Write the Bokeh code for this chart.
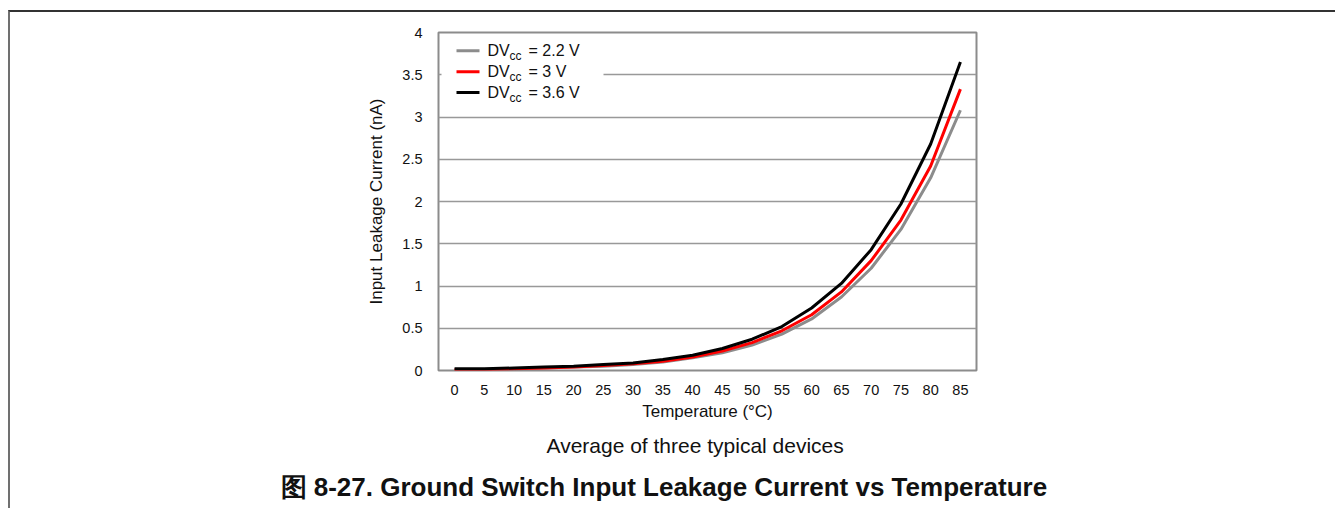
from bokeh.plotting import figure
from bokeh.models import (Range1d, FixedTicker, NumeralTickFormatter, Label,
                          BoxAnnotation, Title)
from bokeh.embed import file_html
from bokeh.resources import INLINE

# ---- data ----
temperature = [0, 5, 10, 15, 20, 25, 30, 35, 40, 45, 50, 55, 60, 65, 70, 75, 80, 85]
dvcc_2_2 = [0.01, 0.01, 0.02, 0.03, 0.04, 0.05, 0.07, 0.10, 0.15, 0.21, 0.30, 0.43,
            0.61, 0.87, 1.21, 1.67, 2.28, 3.08]
dvcc_3_0 = [0.01, 0.01, 0.02, 0.03, 0.04, 0.06, 0.08, 0.11, 0.16, 0.23, 0.33, 0.47,
            0.66, 0.93, 1.30, 1.78, 2.42, 3.33]
dvcc_3_6 = [0.02, 0.02, 0.03, 0.04, 0.05, 0.07, 0.09, 0.13, 0.18, 0.26, 0.37, 0.52,
            0.74, 1.03, 1.43, 1.97, 2.68, 3.65]
series_names = ["2.2 V", "3 V", "3.6 V"]
series_colors = ["#8c8c8c", "#ff0000", "#000000"]
x_ticks = list(range(0, 90, 5))
y_ticks = [0, 0.5, 1, 1.5, 2, 2.5, 3, 3.5, 4]

FONT = "Liberation Sans"
OX, OY = 10, 12                 # canvas origin on the page (after margin + border)
W, H = 1337 - OX, 510 - OY
FL, FR, FT, FB = 438 - OX, 976 - OX, 32 - OY, 370 - OY   # frame edges (canvas)

p = figure(width=W, height=H, output_backend="svg", toolbar_location=None,
           x_range=Range1d(-2.7, 87.7), y_range=Range1d(0, 4),
           min_border_left=FL, min_border_right=W - FR,
           min_border_top=FT, min_border_bottom=H - FB)
p.styles = {"margin-left": "8px", "margin-top": "10px",
            "border-top": "2px solid #333333", "border-left": "2px solid #707070"}
p.background_fill_color = "white"
p.border_fill_color = "white"
p.outline_line_color = "#8c8c8c"
p.outline_line_width = 2

# axes
for ax in (p.xaxis[0], p.yaxis[0]):
    ax.axis_line_color = None
    ax.major_tick_line_color = None
    ax.minor_tick_line_color = None
    ax.major_label_text_font = FONT
    ax.major_label_text_font_size = "14.5px"
    ax.major_label_text_color = "#111111"
    ax.axis_label_text_font = FONT
    ax.axis_label_text_font_size = "17px"
    ax.axis_label_text_font_style = "normal"
    ax.axis_label_text_color = "#111111"

p.xaxis.ticker = FixedTicker(ticks=x_ticks)
p.yaxis.ticker = FixedTicker(ticks=y_ticks)
p.yaxis.formatter = NumeralTickFormatter(format="0.[0]")
p.xaxis.axis_label = "Temperature (°C)"
p.yaxis.axis_label = "Input Leakage Current (nA)"
p.xaxis.major_label_standoff = 8
p.yaxis.major_label_standoff = 10
p.xaxis.axis_label_standoff = 4
p.yaxis.axis_label_standoff = 13

p.xgrid.grid_line_color = None
p.ygrid.grid_line_color = "#999999"
p.ygrid.grid_line_width = 1.5

for ys, col in zip([dvcc_2_2, dvcc_3_0, dvcc_3_6], series_colors):
    p.line(temperature, ys, line_color=col, line_width=3)

# ---- legend (manual, for subscript text) ----
def cbox(l, r, t, b, color):
    return BoxAnnotation(left=l, right=r, top=t, bottom=b,
                         left_units="canvas", right_units="canvas",
                         top_units="canvas", bottom_units="canvas",
                         fill_color=color, fill_alpha=1, line_color=None)

p.add_layout(cbox(439 - OX, 601 - OX, 36 - OY, 100 - OY, "white"))
row_y = [48.3 - OY, 69.3 - OY, 90.0 - OY]
for name, col, yy in zip(series_names, series_colors, row_y):
    p.add_layout(cbox(454 - OX, 477 - OX, yy - 1.5, yy + 1.5, col))
    p.add_layout(Label(x=485 - OX, y=yy, x_units="canvas", y_units="canvas",
                       text="DV", text_font=FONT, text_font_size="16px",
                       text_baseline="middle", text_color="#111111"))
    p.add_layout(Label(x=507 - OX, y=yy + 5, x_units="canvas", y_units="canvas",
                       text="cc", text_font=FONT, text_font_size="12px",
                       text_baseline="middle", text_color="#111111"))
    p.add_layout(Label(x=526 - OX, y=yy, x_units="canvas", y_units="canvas",
                       text="= " + name, text_font=FONT, text_font_size="16px",
                       text_baseline="middle", text_color="#111111"))

# ---- captions below the axis ----
t1 = Title(text="Average of three typical devices", align="left",
           text_font=FONT, text_font_size="21px", text_font_style="normal",
           text_color="#111111", standoff=17, offset=546 - 438)
t2 = Title(text="图 8-27. Ground Switch Input Leakage Current vs Temperature",
           align="left", text_font=FONT, text_font_size="26px",
           text_font_style="bold", text_color="#111111", standoff=8,
           offset=280 - 438)
p.add_layout(t1, "below")
p.add_layout(t2, "below")

open("out.html", "w").write(file_html(p, INLINE))
